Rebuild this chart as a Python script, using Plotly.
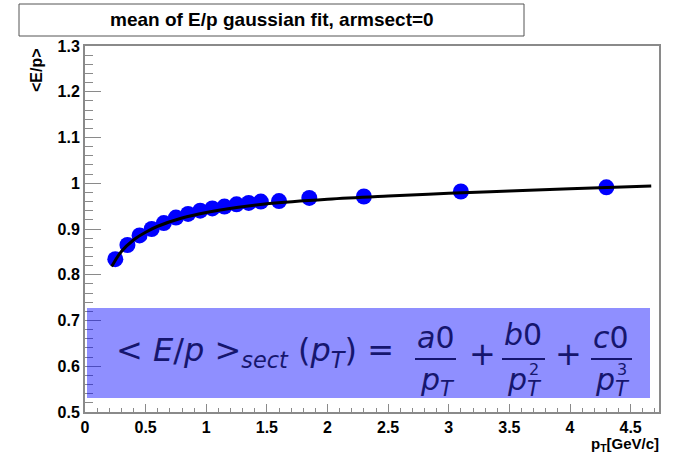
import plotly.graph_objects as go

# ---- data ----
pt = [0.25, 0.35, 0.45, 0.55, 0.65, 0.75, 0.85, 0.95, 1.05, 1.15, 1.25, 1.35, 1.45, 1.6, 1.85, 2.3, 3.1, 4.3]
ep_mean = [0.834, 0.865, 0.886, 0.900, 0.913, 0.925, 0.933, 0.940, 0.945, 0.949, 0.954, 0.957, 0.960, 0.961, 0.968, 0.971, 0.982, 0.991]

fit_x = [0.22, 0.3, 0.4, 0.5, 0.6, 0.8, 1.0, 1.25, 1.5, 2.0, 2.5, 3.0, 3.5, 4.0, 4.67]
fit_y = [0.818, 0.851, 0.876, 0.893, 0.906, 0.924, 0.936, 0.947, 0.955, 0.965, 0.972, 0.978, 0.983, 0.988, 0.994]

y_ticks = [0.5, 0.6, 0.7, 0.8, 0.9, 1.0, 1.1, 1.2, 1.3]
y_tick_labels = ["0.5", "0.6", "0.7", "0.8", "0.9", "1", "1.1", "1.2", "1.3"]
x_ticks = [0, 0.5, 1, 1.5, 2, 2.5, 3, 3.5, 4, 4.5]
x_tick_labels = ["0", "0.5", "1", "1.5", "2", "2.5", "3", "3.5", "4", "4.5"]

title_text = "mean of E/p gaussian fit, armsect=0"

W, H = 673, 453
L, R, T, B = 85, 659, 46, 412


def px(x):
    return (x - L) / (R - L)


def py(y):
    return (B - y) / (B - T)


fig = go.Figure()
fig.add_trace(go.Scatter(x=pt, y=ep_mean, mode="markers",
                         marker=dict(color="#0000ff", size=16, line=dict(width=0)), showlegend=False))
fig.add_trace(go.Scatter(x=fit_x, y=fit_y, mode="lines", line=dict(color="black", width=3, shape="spline"),
                         showlegend=False, hoverinfo="skip"))

tickfont = dict(family="Liberation Sans, Arial", size=16, color="black", weight="bold")
axcol = "#8a8a8a"

fig.update_xaxes(range=[0, 4.734], tickvals=x_ticks, ticktext=x_tick_labels, ticks="inside", ticklen=8,
                 tickcolor=axcol, tickwidth=1, showline=True, mirror=True, linecolor=axcol, linewidth=2,
                 showgrid=False, zeroline=False, tickfont=tickfont,
                 minor=dict(dtick=0.1, tick0=0, ticks="inside", ticklen=4, tickcolor=axcol, tickwidth=1, showgrid=False))
fig.update_yaxes(range=[0.5, 1.3], tickvals=y_ticks, ticktext=y_tick_labels, ticks="inside", ticklen=16,
                 tickcolor=axcol, tickwidth=1, showline=True, mirror=True, linecolor=axcol, linewidth=2,
                 showgrid=False, zeroline=False, tickfont=tickfont,
                 minor=dict(dtick=0.02, tick0=0.5, ticks="inside", ticklen=8, tickcolor=axcol, tickwidth=1, showgrid=False))

shapes = []
# title box
shapes.append(dict(type="rect", xref="paper", yref="paper", x0=px(19), x1=px(524), y0=py(36), y1=py(4),
                   line=dict(color="#555555", width=1), fillcolor="white", layer="above"))
# formula box
shapes.append(dict(type="rect", xref="paper", yref="paper", x0=px(87), x1=px(650), y0=py(398), y1=py(308),
                   line=dict(width=0), fillcolor="rgba(0,0,255,0.44)", layer="above"))

navy = "#16166e"
ffam = "DejaVu Sans"
annotations = []
annotations.append(dict(text=title_text, xref="paper", yref="paper", x=px(272), y=py(20),
                        xanchor="center", yanchor="middle", showarrow=False,
                        font=dict(family="Liberation Sans, Arial", size=19, color="black", weight="bold")))
annotations.append(dict(text="&lt;E/p&gt;", xref="paper", yref="paper", x=px(37), y=py(70),
                        xanchor="center", yanchor="middle", showarrow=False, textangle=-90,
                        font=dict(family="Liberation Sans, Arial", size=16, color="black", weight="bold")))
annotations.append(dict(text="p<sub>T</sub>[GeV/c]", xref="paper", yref="paper", x=px(661), y=py(444),
                        xanchor="right", yanchor="middle", showarrow=False,
                        font=dict(family="Liberation Sans, Arial", size=15, color="black", weight="bold")))


def ann(text, x, y, size, anchor="center"):
    annotations.append(dict(text=text, xref="paper", yref="paper", x=px(x), y=py(y), xanchor=anchor,
                            yanchor="middle", showarrow=False, font=dict(family=ffam, size=size, color=navy)))


ann("&lt; <i>E</i>/<i>p</i> &gt;<sub><i>sect</i></sub> (<i>p</i><sub><i>T</i></sub>) =", 396, 352, 32, "right")
# fraction a0/pT
ann("<i>a</i>0", 435, 337, 30)
ann("<i>p</i><sub><i>T</i></sub>", 437, 381, 30)
ann("+", 482, 354, 32)
ann("<i>b</i>0", 523, 334, 30)
ann("<i>p</i><sub><i>T</i></sub>", 524, 381, 30)
ann("2", 534, 369, 16)
ann("+", 568, 354, 32)
ann("<i>c</i>0", 611, 337, 30)
ann("<i>p</i><sub><i>T</i></sub>", 612, 381, 30)
ann("3", 622, 369, 16)
for (a, b) in [(415, 456), (502, 545), (591, 632)]:
    shapes.append(dict(type="line", xref="paper", yref="paper", x0=px(a), x1=px(b), y0=py(359), y1=py(359),
                       line=dict(color=navy, width=2), layer="above"))

fig.update_layout(width=W, height=H, margin=dict(l=L, r=W - R, t=T, b=H - B), paper_bgcolor="white",
                  plot_bgcolor="white", shapes=shapes, annotations=annotations, showlegend=False)

fig.write_html("out.html")
